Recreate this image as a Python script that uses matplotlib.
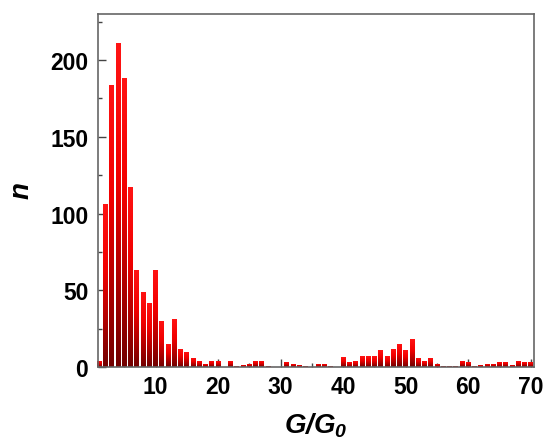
import matplotlib
matplotlib.use("Agg")
import matplotlib.pyplot as plt
import numpy as np
from matplotlib.colors import LinearSegmentedColormap
from matplotlib.ticker import MultipleLocator

# Histogram counts, one bar per unit of G/G0 (bars centred at 1..70)
g_values = list(range(1, 71))
counts = [
    4, 106, 184, 211, 188, 117, 63, 49, 42, 63,
    30, 15, 31, 12, 10, 6, 4, 2, 4, 4,
    0, 4, 0.6, 1.5, 2, 4, 4, 0.6, 0, 0,
    3.5, 2, 1.5, 0.6, 0, 2, 2, 0.6, 0, 6.5,
    3.5, 4, 7, 7, 7, 11, 7, 12, 15, 11,
    18, 6, 4, 6, 2, 0.4, 0.4, 0.4, 4, 3.5,
    0.4, 1.5, 2, 2, 3.5, 3.5, 1.5, 4, 3.5, 3.5,
]
x_ticks = [10, 20, 30, 40, 50, 60, 70]
y_ticks = [0, 50, 100, 150, 200]

plt.rcParams["font.family"] = ["Liberation Sans", "DejaVu Sans"]
plt.rcParams["font.weight"] = "bold"
plt.rcParams["mathtext.fontset"] = "custom"
plt.rcParams["mathtext.it"] = "Liberation Sans:italic:bold"
plt.rcParams["mathtext.rm"] = "Liberation Sans:italic:bold"

fig = plt.figure(figsize=(5.47, 4.39), dpi=100)
ax = fig.add_axes([98 / 547, 71 / 439, 436 / 547, 353 / 439])
ax.set_axisbelow(True)

# dark red at the bottom of each bar, bright red towards the top
cmap = LinearSegmentedColormap.from_list(
    "redgrad", [(0.0, "#720000"), (0.3, "#b40000"), (0.6, "#f20000"), (1.0, "#ff1414")]
)
grad = np.linspace(0, 1, 128).reshape(-1, 1)

bars = ax.bar(g_values, counts, width=0.78, color="none", edgecolor="none", zorder=2)
for patch in bars:
    x0, y0 = patch.get_x(), patch.get_y()
    w, h = patch.get_width(), patch.get_height()
    if h <= 0:
        continue
    im = ax.imshow(grad, extent=[x0 - 0.1, x0 + w + 0.1, y0, y0 + h], origin="lower",
                   aspect="auto", cmap=cmap, zorder=2, interpolation="bilinear")
    im.set_clip_path(patch)

ax.set_xlim(0.8, 70.5)
ax.set_ylim(0, 230)
ax.set_xticks(x_ticks)
ax.set_yticks(y_ticks)
ax.xaxis.set_minor_locator(MultipleLocator(5))
ax.yaxis.set_minor_locator(MultipleLocator(25))

ax.tick_params(axis="both", which="major", direction="in", length=6, width=1,
               color="#444444", labelsize=16.5, top=False, right=False)
ax.tick_params(axis="both", which="minor", direction="in", length=3, width=1,
               color="#444444", top=False, right=False)
ax.tick_params(axis="x", which="major", pad=6)
ax.tick_params(axis="y", which="major", pad=7)

for spine in ax.spines.values():
    spine.set_color("#666666")
    spine.set_linewidth(1.2)

ax.set_xlabel(r"$G/G_0$", fontsize=20, labelpad=9)
ax.set_ylabel(r"$n$", fontsize=20, labelpad=11)

fig.savefig("out.png", dpi=100)
